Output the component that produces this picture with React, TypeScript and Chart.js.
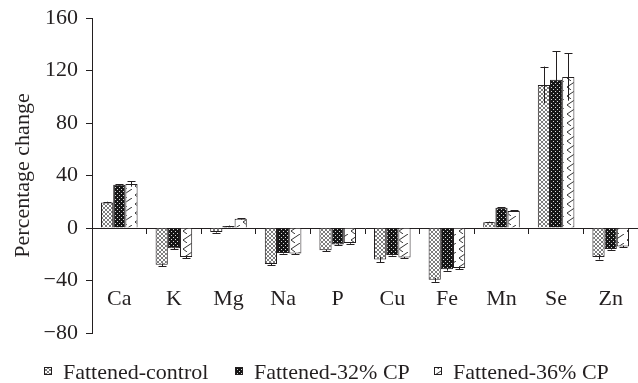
import React, { useEffect, useRef } from "react";
import { Chart, registerables } from "chart.js";

Chart.register(...registerables);

const categories = ["Ca", "K", "Mg", "Na", "P", "Cu", "Fe", "Mn", "Se", "Zn"];
const seriesNames = ["Fattened-control", "Fattened-32% CP", "Fattened-36% CP"];

const controlValues = [19.5, -28, -3, -27.5, -17, -24, -39.5, 4.3, 109, -22];
const cp32Values = [33, -15.5, 1.5, -19, -12.5, -20.5, -31.5, 15.5, 113, -16];
const cp36Values = [33.5, -22, 7, -19.5, -11.5, -22.5, -30.5, 13, 115, -14];

const controlErrors = [0.5, 1, 0.5, 1, 0.5, 2, 1.5, 0.5, 14, 2];
const cp32Errors = [0.5, 0.5, 0.3, 0.5, 0.5, 0.5, 1, 0.5, 21.5, 0.5];
const cp36Errors = [2, 1, 0.5, 0.5, 0.5, 0.5, 1, 0.5, 18, 0.5];

const yMin = -80;
const yMax = 160;
const yStep = 40;

const FONT = '"Liberation Serif", "Times New Roman", serif';
const INK = "#231f20";

function makePattern(kind: string): CanvasPattern | string {
  const c = document.createElement("canvas");
  const ctx = c.getContext("2d");
  if (!ctx) return "#999";
  if (kind === "control") {
    c.width = 4;
    c.height = 4;
    ctx.fillStyle = "#ffffff";
    ctx.fillRect(0, 0, 4, 4);
    ctx.fillStyle = "#7d7d7d";
    [[0, 0], [1, 1], [2, 2], [3, 3], [3, 0], [2, 1], [1, 2], [0, 3]].forEach(([x, y]) =>
      ctx.fillRect(x, y, 1, 1)
    );
  } else if (kind === "dots") {
    c.width = 4;
    c.height = 4;
    ctx.fillStyle = "#161616";
    ctx.fillRect(0, 0, 4, 4);
    ctx.fillStyle = "#d8d8d8";
    ctx.fillRect(1, 1, 1, 1);
    ctx.fillRect(3, 3, 1, 1);
  } else {
    c.width = 12;
    c.height = 9;
    ctx.fillStyle = "#ffffff";
    ctx.fillRect(0, 0, 12, 9);
    ctx.strokeStyle = "#333333";
    ctx.lineWidth = 1;
    ctx.beginPath();
    ctx.moveTo(12, 0);
    ctx.lineTo(3, 6);
    ctx.lineTo(7, 9);
    ctx.stroke();
  }
  const p = ctx.createPattern(c, "repeat");
  return p || "#999";
}

const errorBarPlugin = {
  id: "errorBars",
  afterDatasetsDraw(chart: any) {
    const ctx = chart.ctx;
    const yScale = chart.scales.y;
    ctx.save();
    ctx.strokeStyle = INK;
    ctx.lineWidth = 1;
    chart.data.datasets.forEach((ds: any, i: number) => {
      const meta = chart.getDatasetMeta(i);
      meta.data.forEach((el: any, j: number) => {
        const v = ds.data[j];
        const e = ds.errors[j];
        const x = Math.round(el.x) + 0.5;
        const yOuter = yScale.getPixelForValue(v >= 0 ? v + e : v - e);
        const yInner = yScale.getPixelForValue(v >= 0 ? v - e : v + e);
        ctx.beginPath();
        ctx.moveTo(x, yInner);
        ctx.lineTo(x, yOuter);
        ctx.moveTo(x - 4, Math.round(yOuter) + 0.5);
        ctx.lineTo(x + 4, Math.round(yOuter) + 0.5);
        ctx.stroke();
      });
    });
    ctx.restore();
  },
};

const legendX = [44, 235, 434];

const legendPlugin = {
  id: "bottomLegend",
  afterDraw(chart: any) {
    const ctx = chart.ctx;
    ctx.save();
    ctx.font = `22px ${FONT}`;
    ctx.textBaseline = "alphabetic";
    chart.data.datasets.forEach((ds: any, i: number) => {
      const x = legendX[i];
      ctx.fillStyle = ds.backgroundColor;
      ctx.fillRect(x, 367, 8, 8);
      ctx.strokeStyle = INK;
      ctx.lineWidth = 1;
      ctx.strokeRect(x + 0.5, 367.5, 7, 7);
      ctx.fillStyle = INK;
      ctx.fillText(ds.label, x + 19, 379);
    });
    ctx.restore();
  },
};

export default function App() {
  const ref = useRef<HTMLCanvasElement | null>(null);

  useEffect(() => {
    if (!ref.current) return;
    const patterns = [makePattern("control"), makePattern("dots"), makePattern("zigzag")];
    const values = [controlValues, cp32Values, cp36Values];
    const errors = [controlErrors, cp32Errors, cp36Errors];
    const chart = new Chart(ref.current, {
      type: "bar",
      data: {
        labels: categories,
        datasets: seriesNames.map((name, i) => ({
          label: name,
          data: values[i],
          errors: errors[i],
          backgroundColor: patterns[i],
          borderColor: INK,
          borderWidth: 1,
          categoryPercentage: 0.67,
          barPercentage: 1,
        })) as any,
      },
      options: {
        responsive: false,
        animation: false,
        layout: { padding: { left: 0, right: 0, top: 18, bottom: 50 } },
        plugins: { legend: { display: false }, tooltip: { enabled: false } },
        scales: {
          x: {
            position: { y: 0 } as any,
            offset: true,
            grid: {
              display: true,
              drawOnChartArea: false,
              drawTicks: true,
              tickLength: 5,
              offset: true,
              color: INK,
            },
            border: { display: true, color: INK, width: 1 },
            ticks: {
              font: { family: FONT, size: 22 },
              color: INK,
              padding: 53,
              maxRotation: 0,
              autoSkip: false,
            },
            afterFit(s: any) {
              s.paddingLeft = 0;
              s.paddingRight = 0;
            },
          },
          y: {
            min: yMin,
            max: yMax,
            ticks: {
              stepSize: yStep,
              font: { family: FONT, size: 22 },
              color: INK,
              padding: 8,
              callback: (v: any) => String(v).replace("-", "\u2212"),
            },
            grid: { drawOnChartArea: false, drawTicks: true, tickLength: 6, color: INK },
            border: { display: true, color: INK, width: 1 },
            title: {
              display: true,
              text: "Percentage change",
              font: { family: FONT, size: 22 },
              color: INK,
              padding: { top: 10, bottom: 0 },
            },
            afterFit(s: any) {
              s.width = 92;
              s.paddingTop = 0;
              s.paddingBottom = 0;
            },
          },
        },
      },
      plugins: [errorBarPlugin, legendPlugin],
    });
    return () => chart.destroy();
  }, []);

  return (
    <div style={{ position: "fixed", left: 0, top: 0, width: 638, height: 383, background: "#fff" }}>
      <canvas ref={ref} width={638} height={383} style={{ display: "block" }} />
    </div>
  );
}
